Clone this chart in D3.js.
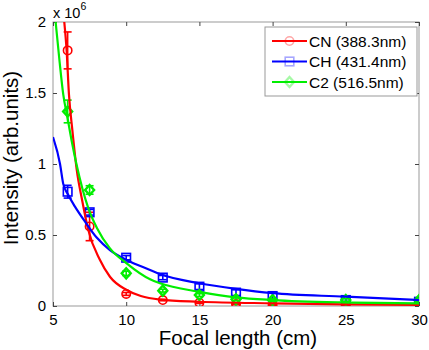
<!DOCTYPE html>
<html><head><meta charset="utf-8">
<script src="https://cdn.jsdelivr.net/npm/d3@7"></script>
<style>body{margin:0;background:#fff}svg{display:block}text{font-family:"Liberation Sans",Arial,sans-serif}</style>
</head><body><svg id="c" width="429" height="350"></svg>
<script>
const focal = [6, 7.5, 10, 12.5, 15, 17.5, 20, 25, 30];
const cnVals = [1.80, 0.56, 0.085, 0.042, 0.023, 0.014, 0.007, 0.004, 0.004];
const cnErr  = [0.13, 0.10, 0.01, 0.005, 0.005, 0.005, 0.005, 0.003, 0.003];
const chVals = [0.805, 0.66, 0.34, 0.20, 0.136, 0.094, 0.07, 0.042, 0.03];
const chErr  = [0.045, 0.02, 0.015, 0.015, 0.02, 0.02, 0.02, 0.01, 0.01];
const c2Vals = [1.37, 0.817, 0.23, 0.108, 0.077, 0.047, 0.042, 0.042, 0.04];
const c2Err  = [0.08, 0.03, 0.015, 0.01, 0.01, 0.01, 0.01, 0.01, 0.01];
// fitted curves: [x, intensity (x1e6)]
const cnFit = [[5.77,2.0],[5.93,1.80],[6.09,1.49],[6.32,1.24],[6.62,0.96],[7.0,0.74],[7.41,0.535],[8.21,0.324],[8.89,0.206],[10.03,0.113],[11.0,0.07],[12.31,0.045],[15,0.03],[20,0.019],[25,0.012],[30,0.008]];
const chFit = [[5.0,1.19],[5.48,1.0],[5.70,0.86],[6.0,0.79],[6.5,0.70],[7.19,0.594],[8.0,0.48],[8.89,0.394],[10.03,0.324],[11.63,0.254],[12.31,0.225],[15,0.16],[17.5,0.12],[20,0.09],[25,0.066],[30,0.042]];
const c2Fit = [[5.18,2.0],[5.45,1.72],[5.7,1.49],[6.0,1.32],[6.3,1.15],[6.6,1.0],[7.41,0.69],[8.0,0.55],[8.89,0.406],[10.03,0.30],[11.63,0.188],[12.31,0.16],[15,0.10],[17.5,0.061],[20,0.042],[25,0.025],[30,0.019]];
const xTicks = [5, 10, 15, 20, 25, 30];
const yTicks = [0, 0.5, 1, 1.5, 2];
const yTickLabels = ["0", "0.5", "1", "1.5", "2"];
const names = ["CN (388.3nm)", "CH (431.4nm)", "C2 (516.5nm)"];
const colors = ["#ff0000", "#0000ff", "#00ee00"];

const svg = d3.select("#c");
const L = 53, R = 419, T = 22, B = 306;
const x = d3.scaleLinear().domain([5, 30]).range([L, R]);
const y = d3.scaleLinear().domain([0, 2]).range([B, T]);

svg.append("clipPath").attr("id","pc").append("rect").attr("x",L).attr("y",T).attr("width",R-L).attr("height",B-T);

// box
svg.append("rect").attr("x",L).attr("y",T).attr("width",R-L).attr("height",B-T).attr("fill","#fff").attr("stroke","#999").attr("stroke-width",1);

// axes
const ax = (g)=>g.selectAll(".domain").remove();
svg.append("g").attr("transform",`translate(0,${B})`).call(d3.axisBottom(x).tickValues(xTicks).tickSizeInner(-4).tickSizeOuter(0).tickPadding(8)).call(ax)
  .call(g=>{g.selectAll("text").attr("font-size",15).attr("fill","#000").attr("font-family","Liberation Sans, Arial");g.selectAll("line").attr("stroke","#444");});
svg.append("g").attr("transform",`translate(0,${T})`).call(d3.axisTop(x).tickValues(xTicks).tickSizeInner(-4).tickSizeOuter(0).tickFormat("")).call(ax)
  .call(g=>g.selectAll("line").attr("stroke","#444"));
svg.append("g").attr("transform",`translate(${L},0)`).call(d3.axisLeft(y).tickValues(yTicks).tickFormat((d,i)=>yTickLabels[i]).tickSizeInner(-4).tickSizeOuter(0).tickPadding(7)).call(ax)
  .call(g=>{g.selectAll("text").attr("font-size",15).attr("fill","#000").attr("font-family","Liberation Sans, Arial");g.selectAll("line").attr("stroke","#444");});
svg.append("g").attr("transform",`translate(${R},0)`).call(d3.axisRight(y).tickValues(yTicks).tickSizeInner(-4).tickSizeOuter(0).tickFormat("")).call(ax)
  .call(g=>g.selectAll("line").attr("stroke","#444"));

// exponent
const ex = svg.append("text").attr("x",53).attr("y",18).attr("font-size",14.5).attr("fill","#000");
ex.append("tspan").text("x 10");
ex.append("tspan").attr("dy",-8).attr("font-size",10.5).text("6");

// labels
svg.append("text").attr("x",238).attr("y",345).attr("text-anchor","middle").attr("font-size",20.5).text("Focal length (cm)");
svg.append("text").attr("transform","translate(18,158) rotate(-90)").attr("text-anchor","middle").attr("font-size",20.5).text("Intensity (arb.units)");

const plot = svg.append("g").attr("clip-path","url(#pc)");
const series = [
  {v:cnVals, e:cnErr, fit:cnFit, m:"circle"},
  {v:chVals, e:chErr, fit:chFit, m:"square"},
  {v:c2Vals, e:c2Err, fit:c2Fit, m:"diamond"}
];
function marker(g, type, cx, cy, col){
  if(type==="circle") g.append("circle").attr("cx",cx).attr("cy",cy).attr("r",4.2).attr("fill","none").attr("stroke",col).attr("stroke-width",1.6);
  else if(type==="square") g.append("rect").attr("x",cx-4.3).attr("y",cy-4.3).attr("width",8.6).attr("height",8.6).attr("fill","none").attr("stroke",col).attr("stroke-width",1.6);
  else g.append("path").attr("d",`M${cx},${cy-5}L${cx+4.5},${cy}L${cx},${cy+5}L${cx-4.5},${cy}Z`).attr("fill","none").attr("stroke",col).attr("stroke-width",2.4);
}
const line = d3.line().x(d=>x(d[0])).y(d=>y(d[1])).curve(d3.curveMonotoneX);
series.forEach((s,si)=>{
  const col = colors[si];
  const g = plot.append("g");
  focal.forEach((fx,i)=>{
    const cx = x(fx), y1 = y(s.v[i]+s.e[i]), y2 = y(s.v[i]-s.e[i]);
    g.append("line").attr("x1",cx).attr("x2",cx).attr("y1",y1).attr("y2",y2).attr("stroke",col).attr("stroke-width",1.6);
    [y1,y2].forEach(yy=>g.append("line").attr("x1",cx-4).attr("x2",cx+4).attr("y1",yy).attr("y2",yy).attr("stroke",col).attr("stroke-width",1.6));
    marker(g, s.m, cx, y(s.v[i]), col);
  });
});
series.forEach((s,si)=>{
  plot.append("path").datum(s.fit).attr("d",line).attr("fill","none").attr("stroke",colors[si]).attr("stroke-width",2.2);
});

// legend
const lg = svg.append("g");
lg.append("rect").attr("x",265).attr("y",27).attr("width",152).attr("height",69).attr("fill","#fff").attr("stroke","#999");
names.forEach((n,i)=>{
  const yy = 41 + i*20.5;
  lg.append("line").attr("x1",272).attr("x2",307).attr("y1",yy).attr("y2",yy).attr("stroke",colors[i]).attr("stroke-width",2);
  const mg = lg.append("g").attr("opacity",0.35);
  marker(mg, series[i].m, 289.5, yy, colors[i]);
  lg.append("text").attr("x",309).attr("y",yy+5.5).attr("font-size",15.5).attr("fill","#000").text(n);
});
</script></body></html>
